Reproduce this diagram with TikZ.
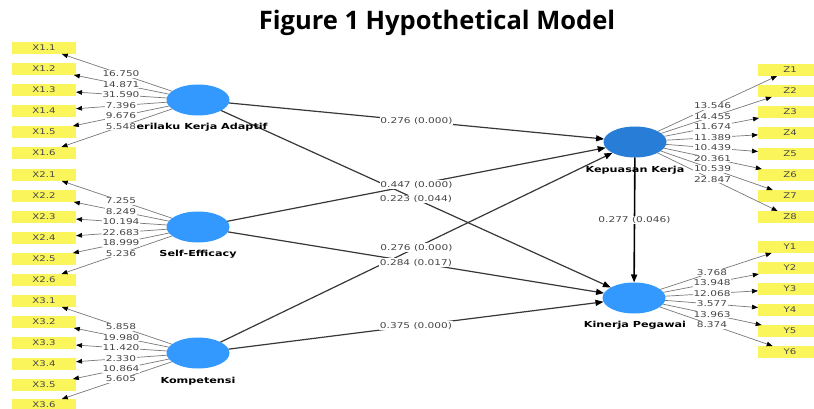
\documentclass[tikz,border=0pt]{standalone}
\usepackage{fontspec}
\usetikzlibrary{shapes.geometric,arrows.meta}
\newfontfamily\titlefont{Open Sans}
\newfontfamily\numfont[FakeStretch=1.32]{DejaVu Sans}
\newfontfamily\boxfont[FakeStretch=1.3]{DejaVu Sans}
\newfontfamily\latfont[FakeStretch=1.35]{DejaVu Sans}
\definecolor{indc}{RGB}{250,245,90}
\definecolor{latc}{RGB}{51,153,255}
\definecolor{latdark}{RGB}{40,125,215}
\definecolor{numc}{RGB}{70,70,70}
\definecolor{indline}{RGB}{120,120,120}
\definecolor{pathline}{RGB}{55,55,55}
\tikzset{
  indbox/.style={rectangle, fill=indc, minimum width=64pt, minimum height=12pt, inner sep=0pt, outer sep=0pt,
    font=\boxfont\fontsize{7.8}{8}\selectfont, text=numc},
  latent/.style={ellipse, fill=latc, minimum width=63pt, minimum height=31pt, inner sep=0pt, outer sep=0pt},
  latname/.style={font=\latfont\bfseries\fontsize{8.3}{9}\selectfont, text=black, inner sep=0pt, anchor=base},
  indarrow/.style={draw=indline, line width=0.7pt, -{Triangle[length=6pt,width=4.5pt,color=black]}},
  patharrow/.style={draw=pathline, line width=1.2pt, -{Triangle[length=8pt,width=6pt,color=black]}},
  strongarrow/.style={draw=black, line width=1.6pt, -{Triangle[length=8pt,width=6pt,color=black]}},
  lbl/.style={fill=white, inner sep=0.8pt, font=\numfont\fontsize{8}{8}\selectfont, text=numc},
  titlestyle/.style={font=\titlefont\bfseries\fontsize{25.5}{27}\selectfont, text=black, anchor=base, inner sep=0pt}
}
\begin{document}
\begin{tikzpicture}[x=1pt,y=-1pt]
\useasboundingbox (0,0) rectangle (814,409);
\clip (0,0) rectangle (814,409);

\node[titlestyle] (title) at (437,30) {Figure 1 Hypothetical Model};

% latent variables
\node[latent] (P) at (198,100) {};
\node[latent] (S) at (198,227) {};
\node[latent] (K) at (198,353) {};
\node[latent, fill=latdark] (Z) at (635,142) {};
\node[latent] (Y) at (634,298) {};

% indicators
\foreach \i/\yy in {1/48,2/69,3/90,4/111,5/132,6/153}{
  \node[indbox] (x1\i) at (44,\yy) {X1.\i};
  \draw[indarrow] (P) -- (x1\i);
}
\foreach \i/\yy in {1/175,2/196,3/217,4/238,5/259,6/280}{
  \node[indbox] (x2\i) at (44,\yy) {X2.\i};
  \draw[indarrow] (S) -- (x2\i);
}
\foreach \i/\yy in {1/301,2/322,3/343,4/364,5/385,6/405}{
  \node[indbox] (x3\i) at (44,\yy) {X3.\i};
  \draw[indarrow] (K) -- (x3\i);
}
\foreach \i/\yy in {1/70,2/91,3/112,4/133,5/154,6/175,7/196,8/217}{
  \node[indbox] (z\i) at (790,\yy) {Z\i};
  \draw[indarrow] (Z) -- (z\i);
}
\foreach \i/\yy in {1/247,2/268,3/289,4/310,5/331,6/352}{
  \node[indbox] (y\i) at (790,\yy) {Y\i};
  \draw[indarrow] (Y) -- (y\i);
}

% structural paths
\draw[patharrow] (P) -- (Z);
\draw[patharrow] (P) -- (Y);
\draw[patharrow] (S) -- (Z);
\draw[patharrow] (S) -- (Y);
\draw[patharrow] (K) -- (Z);
\draw[patharrow] (K) -- (Y);
\draw[strongarrow] (Z) -- (Y);

% latent names
\node[latname] (Pn) at (198,130) {Perilaku Kerja Adaptif};
\node[latname] (Sn) at (198,256) {Self-Efficacy};
\node[latname] (Kn) at (198,383) {Kompetensi};
\node[latname] (Zn) at (635,172) {Kepuasan Kerja};
\node[latname] (Yn) at (635,327) {Kinerja Pegawai};

% outer loading labels
\foreach \i/\v in {1/16.750,2/14.871,3/31.590,4/7.396,5/9.676,6/5.548}{
  \path (P.center) -- (x1\i.center) node[midway,lbl] {\v};
}
\foreach \i/\v in {1/7.255,2/8.249,3/10.194,4/22.683,5/18.999,6/5.236}{
  \path (S.center) -- (x2\i.center) node[midway,lbl] {\v};
}
\foreach \i/\v in {1/5.858,2/19.980,3/11.420,4/2.330,5/10.864,6/5.605}{
  \path (K.center) -- (x3\i.center) node[midway,lbl] {\v};
}
\foreach \i/\v in {1/13.546,2/14.455,3/11.674,4/11.389,5/10.439,6/20.361,7/10.539,8/22.847}{
  \path (Z.center) -- (z\i.center) node[midway,lbl] {\v};
}
\foreach \i/\v in {1/3.768,2/13.948,3/12.068,4/3.577,5/13.963,6/8.374}{
  \path (Y.center) -- (y\i.center) node[midway,lbl] {\v};
}

% path coefficient labels
\path (P.center) -- (Z.center) node[midway,lbl] {0.276 (0.000)};
\path (S.center) -- (Z.center) node[midway,lbl] {0.447 (0.000)};
\path (P.center) -- (Y.center) node[midway,lbl] {0.223 (0.044)};
\path (K.center) -- (Z.center) node[midway,lbl] {0.276 (0.000)};
\path (S.center) -- (Y.center) node[midway,lbl] {0.284 (0.017)};
\path (K.center) -- (Y.center) node[midway,lbl] {0.375 (0.000)};
\path (Z.center) -- (Y.center) node[midway,lbl] {0.277 (0.046)};
\end{tikzpicture}
\end{document}
